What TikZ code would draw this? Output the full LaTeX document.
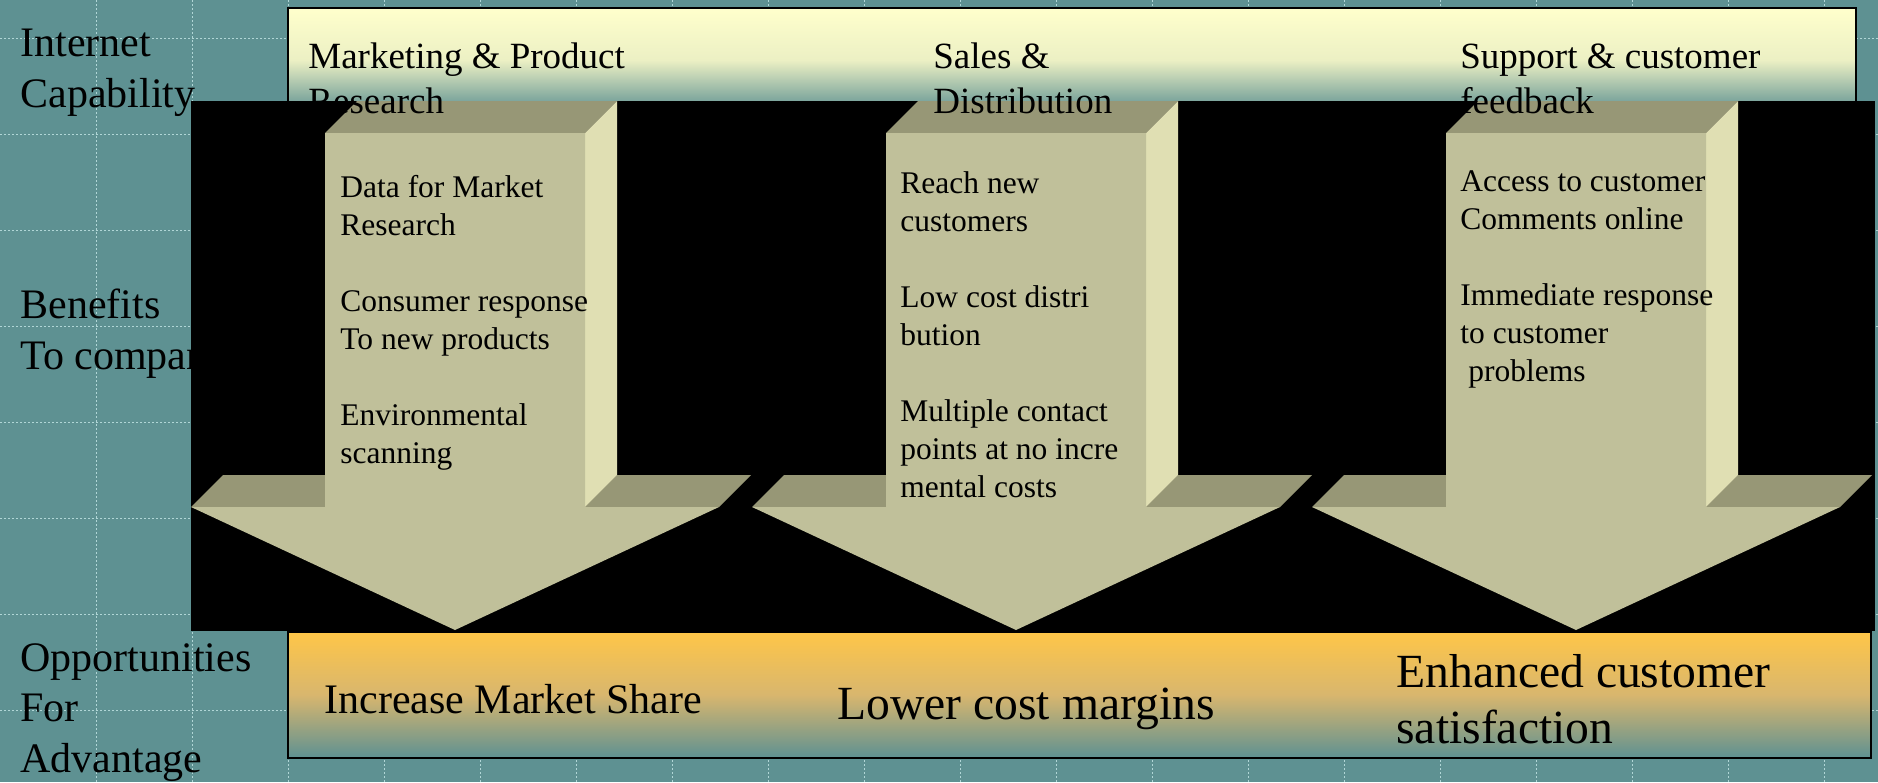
\documentclass[tikz,border=0pt]{standalone}
\usepackage{fontspec}
\setmainfont{Liberation Serif}

\definecolor{slide}{RGB}{94,145,146}
\definecolor{gridc}{RGB}{176,214,214}
\definecolor{capyellow}{RGB}{255,255,204}
\definecolor{capmid}{RGB}{236,240,196}
\definecolor{oppo}{RGB}{255,198,72}
\definecolor{oppmid}{RGB}{216,182,110}
\definecolor{shaftfront}{RGB}{192,192,154}
\definecolor{shafttop}{RGB}{151,151,118}
\definecolor{shaftside}{RGB}{224,223,179}

\begin{document}
\begin{tikzpicture}[x=0.5pt,y=-0.5pt,
    label/.style={anchor=base west, inner sep=0pt, align=left,
                  font=\fontsize{21}{25.25}\selectfont},
    heading/.style={anchor=base west, inner sep=0pt, align=left,
                    font=\fontsize{18.5}{22.5}\selectfont},
    benefit/.style={anchor=base west, inner sep=0pt, align=left,
                    font=\fontsize{15.75}{19}\selectfont},
    gain/.style={anchor=base west, inner sep=0pt, align=left,
                 font=\fontsize{23.8}{28}\selectfont},
    band/.style={draw=black, line width=1pt},
    gridline/.style={draw=gridc, line width=0.5pt, dash pattern=on 1pt off 1pt}]
    \useasboundingbox (0,0) rectangle (1878,782);
    \fill[slide] (0,0) rectangle (1878,782);
    \foreach \gx in {96,192,...,1824}
      \draw[gridline] (\gx,0) -- (\gx,782);
    \foreach \gy in {38,134,...,710}
      \draw[gridline] (0,\gy) -- (1878,\gy);

    % base anchor sits on the last line
    \node[label] (capability) at (20,107) {Internet\\Capability};
    \node[label] (benefits) at (20,369) {Benefits\\To company};
    \node[label] (opportunity) at (20,772) {Opportunities\\For\\Advantage};

    \path[band, top color=capyellow, bottom color=slide, middle color=capmid]
      (288,8) rectangle (1856,112);
    \path[band, top color=oppo, bottom color=slide, middle color=oppmid]
      (288,632) rectangle (1871,758);
    \fill[black] (191,101) rectangle (1875,631);

    % three block arrows, front face + top faces + right side
    \foreach \c in {455,1016,1576} {
      \fill[shafttop] (\c-130,133) -- (\c-98,101) -- (\c+162,101) -- (\c+130,133) -- cycle;
      \fill[shafttop] (\c-264,507) -- (\c-232,475) -- (\c-130,475) -- (\c-130,507) -- cycle;
      \fill[shafttop] (\c+130,507) -- (\c+162,475) -- (\c+296,475) -- (\c+264,507) -- cycle;
      \fill[shaftside] (\c+130,133) -- (\c+162,101) -- (\c+162,475) -- (\c+130,507) -- cycle;
      \fill[shaftfront] (\c-130,133) -- (\c+130,133) -- (\c+130,507) -- (\c+264,507)
        -- (\c,630) -- (\c-264,507) -- (\c-130,507) -- cycle;
    }

    \node[heading] (marketing) at (308,113) {Marketing \& Product\\Research};
    \node[heading] (sales) at (933,113) {Sales \&\\Distribution};
    \node[heading] (support) at (1460,113) {Support \& customer\\feedback};

    \node[benefit] (research) at (340,463)
      {Data for Market\\Research\\[19pt]Consumer response\\To new products\\[19pt]Environmental\\scanning};
    \node[benefit] (reach) at (900,497)
      {Reach new\\customers\\[19pt]Low cost distri\\bution\\[19pt]Multiple contact\\points at no incre\\mental costs};
    \node[benefit] (access) at (1460,381)
      {Access to customer\\Comments online\\[19pt]Immediate response\\to customer\\\hspace*{.25em}problems};

    \node[label] (share) at (324,713) {Increase Market Share};
    \node[gain] (margins) at (837,719) {Lower cost margins};
    \node[gain] (satisfaction) at (1396,743) {Enhanced customer\\satisfaction};
\end{tikzpicture}
\end{document}
